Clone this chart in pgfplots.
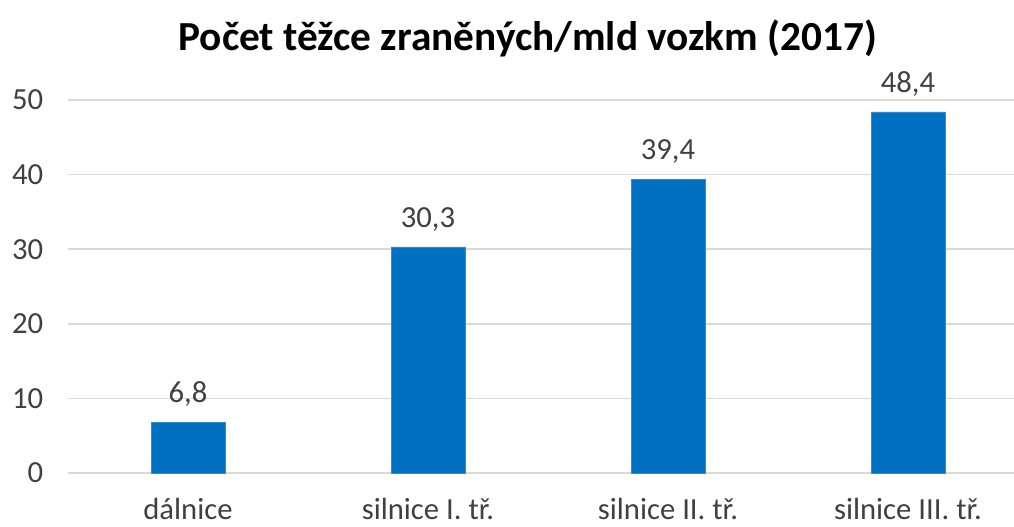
\documentclass[border=0pt]{standalone}
\usepackage{pgfplots}
\pgfplotsset{compat=1.18}
\usepackage{fontspec}
\setmainfont{Carlito}
\definecolor{barblue}{HTML}{0070C0}
\definecolor{gridgray}{HTML}{D9D9D9}
\definecolor{txtgray}{HTML}{404040}
\begin{document}
\begin{tikzpicture}[x=1pt,y=1pt]
\useasboundingbox (-51pt,-39.75pt) rectangle (709.5pt,354.75pt);
\begin{axis}[
  at={(0,0)}, anchor=south west,
  scale only axis,
  width=709.5pt, height=279.75pt,
  xmin=-0.5, xmax=3.4417,
  ymin=0, ymax=50,
  ytick={0,10,20,30,40,50},
  xtick={0,1,2,3},
  xticklabels={dálnice, silnice I. tř., silnice II. tř., silnice III. tř.},
  axis line style={draw=none},
  tick style={draw=none},
  ymajorgrids,
  grid style={gridgray, line width=1.2pt},
  ybar, bar width=0.308,
  bar shift=0pt,
  clip=false,
  /pgf/number format/assume math mode=true,
  /pgf/number format/use comma,
  yticklabel style={font=\fontsize{23}{26}\selectfont, text=txtgray, xshift=-15pt},
  xticklabel style={font=\fontsize{23}{26}\selectfont, text=txtgray, yshift=-11pt},
  nodes near coords,
  nodes near coords style={font=\fontsize{23}{26}\selectfont, text=txtgray, /pgf/number format/fixed, /pgf/number format/precision=1, /pgf/number format/fixed zerofill, /pgf/number format/use comma, yshift=8pt},
  title={\textbf{Počet těžce zraněných/mld vozkm (2017)}},
  title style={font=\fontsize{31}{34}\selectfont, text=black, yshift=23pt, xshift=-9.75pt},
]
\addplot[fill=barblue, draw=barblue!80!white] coordinates {(0,6.8) (1,30.3) (2,39.4) (3,48.4)};
\end{axis}
\end{tikzpicture}
\end{document}
